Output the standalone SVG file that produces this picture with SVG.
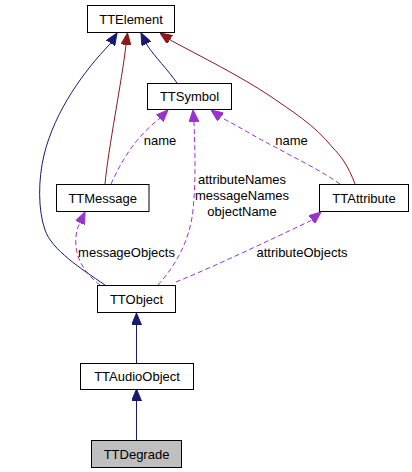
<svg xmlns="http://www.w3.org/2000/svg" width="412" height="472" viewBox="0 0 412 472">
<style>
.node rect{fill:#ffffff;stroke:#000000;stroke-width:1}
.node text{font-family:"Liberation Sans",Arial,sans-serif;font-size:13px;fill:#000000;text-anchor:middle}
.lbl{font-family:"Liberation Sans",Arial,sans-serif;font-size:13px;fill:#000000;text-anchor:middle}
.e{fill:none;stroke-width:1}
.blue{stroke:#191970}
.red{stroke:#8b1a1a}
.purple{stroke:#9a32cd;stroke-dasharray:5,3}
</style>
<defs>
<marker id="ab" markerUnits="userSpaceOnUse" markerWidth="12" markerHeight="10" viewBox="0 0 12 10" refX="12" refY="5" orient="auto"><path d="M0,0 L12,5 L0,10 z" fill="#191970" stroke="#191970"/></marker>
<marker id="ar" markerUnits="userSpaceOnUse" markerWidth="12" markerHeight="10" viewBox="0 0 12 10" refX="12" refY="5" orient="auto"><path d="M0,0 L12,5 L0,10 z" fill="#8b1a1a" stroke="#8b1a1a"/></marker>
<marker id="ap" markerUnits="userSpaceOnUse" markerWidth="12" markerHeight="10" viewBox="0 0 12 10" refX="12" refY="5" orient="auto"><path d="M0,0 L12,5 L0,10 z" fill="#9a32cd" stroke="#9a32cd"/></marker>
</defs>
<g id="edges">
<path class="e blue" marker-end="url(#ab)" d="M105,285 C80,268 52,250 45,230 C38,210 38,180 44,155 C55,110 85,70 110,44 L117,33"/>
<path class="e red" marker-end="url(#ar)" d="M105,184 C108,150 122,80 126,45 L127.5,33"/>
<path class="e blue" marker-end="url(#ab)" d="M177,83 C168,70 155,57 147,45 L141,33"/>
<path class="e red" marker-end="url(#ar)" d="M355,184 C348,165 340,155 333,148 C315,125 290,110 270,96 C240,76 200,56 172,41 L160,33"/>
<path class="e purple" marker-end="url(#ap)" d="M111,184 C122,160 135,138 159,119 L168,110"/>
<path class="e purple" marker-end="url(#ap)" d="M158,285 C176,265 190,240 193,210 C196,180 195,150 194,123 L193,110"/>
<path class="e purple" marker-end="url(#ap)" d="M340,184 C320,170 295,158 275,147 C255,137 240,127 222,118 L211,110"/>
<path class="e purple" marker-end="url(#ap)" d="M100,285 C88,276 77,262 76,246 C75,236 77,228 80,223 L85,212"/>
<path class="e purple" marker-end="url(#ap)" d="M176,282 C220,264 270,240 310,221 L321,212"/>
<path class="e blue" marker-end="url(#ab)" d="M136.5,363 L136.5,313"/>
<path class="e blue" marker-end="url(#ab)" d="M136.5,440 L136.5,389"/>
<text class="lbl" x="160" y="145">name</text>
<text class="lbl" x="291.5" y="145">name</text>
<text class="lbl" x="242" y="184">attributeNames</text>
<text class="lbl" x="242" y="200">messageNames</text>
<text class="lbl" x="242" y="216">objectName</text>
<text class="lbl" x="126.5" y="257">messageObjects</text>
<text class="lbl" x="302" y="257">attributeObjects</text>
</g>
<g id="TTElement" class="node"><rect x="87.5" y="5.5" width="87" height="27"/><text x="131" y="23.5">TTElement</text></g>
<g id="TTSymbol" class="node"><rect x="147.5" y="83.5" width="84" height="26"/><text x="189.5" y="101">TTSymbol</text></g>
<g id="TTMessage" class="node"><rect x="56.5" y="184.5" width="92.5" height="27"/><text x="102.7" y="202.5">TTMessage</text></g>
<g id="TTAttribute" class="node"><rect x="319.5" y="184.5" width="89" height="27"/><text x="364" y="202.5">TTAttribute</text></g>
<g id="TTObject" class="node"><rect x="97.5" y="285.5" width="78" height="27"/><text x="136.5" y="303.5">TTObject</text></g>
<g id="TTAudioObject" class="node"><rect x="80.5" y="363.5" width="113" height="26"/><text x="137" y="381">TTAudioObject</text></g>
<g id="TTDegrade" class="node"><rect x="91.5" y="440.5" width="90" height="27" style="fill:#bfbfbf"/><text x="136.5" y="458.5">TTDegrade</text></g>
</svg>
